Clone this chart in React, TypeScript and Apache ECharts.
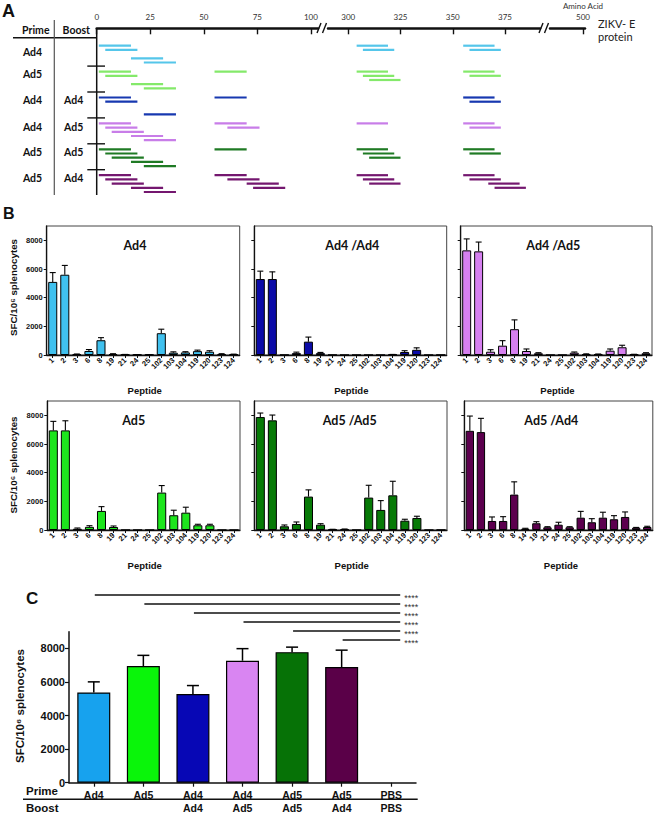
import React, { useEffect, useRef } from 'react';
import * as echarts from 'echarts';

// ---------------- Panel A data ----------------
const aPrime = ['Ad4', 'Ad5', 'Ad4', 'Ad4', 'Ad5', 'Ad5'];
const aBoost = ['', '', 'Ad4', 'Ad5', 'Ad5', 'Ad4'];
const aPositivePeptides = [
  [1, 2, 6, 8, 102, 103, 119, 120],
  [1, 2, 6, 8, 19, 102, 103, 104, 119, 120],
  [1, 2, 8, 19, 119, 120],
  [1, 2, 3, 6, 8, 19, 21, 102, 119, 120],
  [1, 2, 3, 6, 8, 19, 102, 103, 104, 119, 120],
  [1, 2, 3, 6, 8, 19, 21, 24, 25, 102, 103, 104, 119, 120, 123, 124],
];
const peptideIds = [1, 2, 3, 6, 8, 14, 19, 21, 24, 25, 102, 103, 104, 119, 120, 123, 124];
const peptideStartAA = [1, 4, 7, 16, 22, 40, 55, 61, 70, 73, 304, 307, 310, 355, 358, 367, 370];
const peptideLengthAA = 15;
const peptideClusters = [[1, 2, 3, 6, 8], [19, 21, 24, 25], [102, 103, 104], [119, 120, 123, 124]];
const aTicksSeg1 = [0, 25, 50, 75, 100];
const aTicksSeg2 = [300, 325, 350, 375];
const aTicksSeg3 = [500];

// ---------------- Panel B data ----------------
const peptides16 = ['1', '2', '3', '6', '8', '19', '21', '24', '25', '102', '103', '104', '119', '120', '123', '124'];
const peptides17 = ['1', '2', '3', '6', '8', '14', '19', '21', '24', '25', '102', '103', '104', '119', '120', '123', '124'];
const bTitles = ['Ad4', 'Ad4 /Ad4', 'Ad4 /Ad5', 'Ad5', 'Ad5 /Ad5', 'Ad5 /Ad4'];

const ad4Mean = [5100, 5600, 50, 280, 1030, 70, 30, 20, 20, 1520, 160, 180, 270, 230, 70, 50];
const ad4Err = [650, 650, 20, 100, 180, 20, 10, 10, 10, 280, 60, 50, 70, 70, 20, 10];
const ad4ad4Mean = [5300, 5300, 10, 130, 930, 130, 10, 0, 0, 0, 0, 30, 210, 360, 0, 10];
const ad4ad4Err = [550, 500, 0, 70, 320, 50, 0, 0, 0, 0, 0, 10, 90, 140, 0, 0];
const ad4ad5Mean = [7300, 7230, 230, 650, 1800, 280, 120, 0, 0, 160, 60, 50, 300, 540, 40, 120];
const ad4ad5Err = [800, 650, 140, 350, 650, 140, 40, 0, 0, 50, 20, 20, 120, 140, 10, 40];
const ad5Mean = [6950, 6950, 90, 220, 1330, 210, 0, 0, 0, 2610, 1030, 1210, 330, 330, 0, 0];
const ad5Err = [630, 670, 50, 80, 300, 70, 0, 0, 0, 490, 350, 380, 70, 70, 0, 0];
const ad5ad5Mean = [7880, 7650, 260, 420, 2330, 370, 40, 60, 0, 2260, 1400, 2420, 650, 840, 0, 10];
const ad5ad5Err = [280, 370, 90, 140, 470, 70, 10, 10, 0, 860, 650, 980, 100, 120, 0, 0];
const ad5ad4Mean = [6920, 6830, 630, 630, 2470, 90, 470, 190, 370, 190, 860, 540, 860, 750, 910, 160, 210];
const ad5ad4Err = [1030, 960, 280, 300, 890, 30, 110, 40, 170, 40, 440, 250, 380, 250, 350, 20, 50];
const bYTicks = [0, 2000, 4000, 6000, 8000];

// ---------------- Panel C data ----------------
const cPrime = ['Ad4', 'Ad5', 'Ad4', 'Ad4', 'Ad5', 'Ad5', 'PBS'];
const cBoost = ['', '', 'Ad4', 'Ad5', 'Ad5', 'Ad4', 'PBS'];
const cMean = [5380, 6950, 5290, 7270, 7780, 6890, 0];
const cErr = [630, 640, 500, 720, 300, 1010, 0];
const cSigFrom = [0, 1, 2, 3, 4, 5];
const cSigTo = 6;
const cSigLabel = '****';
const cYTicks = [0, 2000, 4000, 6000, 8000];

// ---------------- styles / layout ----------------
const aColors = ['#55c6ea', '#84e96a', '#1738b0', '#c87de8', '#1f7a24', '#74176f'];
const bColors = ['#40c1ef', '#0b0ba8', '#d680f0', '#1de51d', '#077a07', '#5c004e'];
const cColors = ['#17a2ee', '#0af50a', '#0707b5', '#d985f2', '#067206', '#5a0048', '#888888'];
const ARIAL = 'Liberation Sans, Arial, sans-serif';
const CAL = 'Lato, sans-serif';

const A_TOP = 45.7;
const A_ROW = 25.9;
const A_SLOT = 4.2;

const plain = (v: number) => String(v);

export default function App() {
  const ref = useRef<HTMLDivElement>(null);

  useEffect(() => {
    if (!ref.current) return;
    const chart = echarts.init(ref.current, null, { renderer: 'svg' });

    // ---------- Panel A ----------
    const aLineData = (seg: number) => {
      const out: number[][] = [];
      aPositivePeptides.forEach((peps, r) => {
        peps.forEach((p) => {
          const s = peptideStartAA[peptideIds.indexOf(p)];
          const inSeg = seg === 0 ? s < 200 : s >= 200;
          if (!inSeg) return;
          const cl = peptideClusters.find((c) => c.indexOf(p) >= 0) || [p];
          out.push([s, s + peptideLengthAA, r, cl.indexOf(p)]);
        });
      });
      return out;
    };
    const aRender = (params: any, api: any) => {
      const r = api.value(2);
      const slot = api.value(3);
      const p1 = api.coord([api.value(0), r]);
      const p2 = api.coord([api.value(1), r]);
      const y = p1[1] + slot * A_SLOT;
      return {
        type: 'line',
        shape: { x1: p1[0], y1: y, x2: p2[0], y2: y },
        style: { stroke: aColors[r], lineWidth: 2.2 },
      };
    };
    const aXAxis = (gi: number, min: number, max: number, ticks: number[]) => ({
      type: 'value', gridIndex: gi, position: 'top', offset: A_TOP - 28.3, min, max,
      axisLine: { show: true, onZero: false, lineStyle: { color: '#111', width: 2.5 } },
      axisTick: { show: true, inside: true, length: 6, customValues: ticks, lineStyle: { color: '#111', width: 1.4 } },
      axisLabel: { show: true, customValues: ticks, formatter: plain, fontFamily: CAL, fontSize: 8, color: '#333', margin: 7 },
      splitLine: { show: false },
    });
    const aGrid = (left: number, width: number) => ({
      left, width, top: A_TOP, height: A_ROW * 6, outerBoundsMode: 'none', containLabel: false,
    });

    // ---------- Panel B ----------
    const bGrids = [
      { left: 46.7, top: 226, width: 193, height: 129 },
      { left: 254.3, top: 226, width: 192.4, height: 129 },
      { left: 460.7, top: 226, width: 191.3, height: 129 },
      { left: 47.3, top: 401, width: 192.7, height: 129 },
      { left: 254.3, top: 401, width: 192.7, height: 129 },
      { left: 464.3, top: 401, width: 188.5, height: 129 },
    ];
    const bCats = [peptides16, peptides16, peptides16, peptides16, peptides16, peptides17];
    const bMeans = [ad4Mean, ad4ad4Mean, ad4ad5Mean, ad5Mean, ad5ad5Mean, ad5ad4Mean];
    const bErrs = [ad4Err, ad4ad4Err, ad4ad5Err, ad5Err, ad5ad5Err, ad5ad4Err];

    const errRender = (cap: number, lw: number) => (params: any, api: any) => {
      const i = api.value(0);
      const m = api.value(1);
      const e = api.value(2);
      if (!e) return null;
      const a = api.coord([i, m]);
      const b = api.coord([i, m + e]);
      return {
        type: 'group',
        children: [
          { type: 'line', shape: { x1: a[0], y1: a[1], x2: b[0], y2: b[1] }, style: { stroke: '#000', lineWidth: lw } },
          { type: 'line', shape: { x1: b[0] - cap, y1: b[1], x2: b[0] + cap, y2: b[1] }, style: { stroke: '#000', lineWidth: lw } },
        ],
      };
    };

    const grid: any[] = [
      aGrid(96.7, 221.3),
      aGrid(328, 212),
      aGrid(550, 35),
    ];
    const xAxis: any[] = [
      aXAxis(0, 0, 103.3, aTicksSeg1),
      aXAxis(1, 290.3, 391.75, aTicksSeg2),
      aXAxis(2, 484, 501, aTicksSeg3),
    ];
    const yAxis: any[] = [0, 1, 2].map((gi) => ({
      type: 'value', gridIndex: gi, min: 0, max: 6, inverse: true, show: false,
    }));
    const series: any[] = [
      { type: 'custom', xAxisIndex: 0, yAxisIndex: 0, data: aLineData(0), encode: { x: [0, 1], y: 2 }, renderItem: aRender, silent: true, clip: false },
      { type: 'custom', xAxisIndex: 1, yAxisIndex: 1, data: aLineData(1), encode: { x: [0, 1], y: 2 }, renderItem: aRender, silent: true, clip: false },
    ];

    bGrids.forEach((g, k) => {
      const gi = grid.length;
      grid.push({ ...g, show: true, borderColor: '#444', borderWidth: 1, backgroundColor: 'transparent', outerBoundsMode: 'none', containLabel: false });
      xAxis.push({
        type: 'category', gridIndex: gi, data: bCats[k], boundaryGap: true,
        axisLine: { show: true, onZero: false, lineStyle: { color: '#111', width: 1.3 } },
        axisTick: { show: true, alignWithLabel: true, length: 3, lineStyle: { color: '#111', width: 1 } },
        axisLabel: { interval: 0, rotate: 45, fontSize: 7.5, fontWeight: 'bold', fontFamily: ARIAL, color: '#111', margin: 4, hideOverlap: false },
        splitLine: { show: false },
      });
      yAxis.push({
        type: 'value', gridIndex: gi, min: 0, max: 9000, interval: 1000,
        axisLine: { show: true, lineStyle: { color: '#111', width: 1.3 } },
        axisTick: { show: true, length: 3, customValues: bYTicks, lineStyle: { color: '#111', width: 1 } },
        axisLabel: { show: k % 3 === 0, customValues: bYTicks, formatter: plain, fontSize: 7.5, fontWeight: 'bold', fontFamily: ARIAL, color: '#111', margin: 4 },
        splitLine: { show: false },
      });
      series.push({
        type: 'bar', xAxisIndex: gi, yAxisIndex: gi, data: bMeans[k], barWidth: '75%',
        itemStyle: { color: bColors[k], borderColor: '#000', borderWidth: 1 }, silent: true,
      });
      series.push({
        type: 'custom', xAxisIndex: gi, yAxisIndex: gi, z: 5,
        data: bMeans[k].map((m, i) => [i, m, bErrs[k][i]]),
        encode: { x: 0, y: 1 }, renderItem: errRender(3, 1.1), silent: true, clip: false,
      });
    });

    // ---------- Panel C ----------
    const cg = grid.length;
    grid.push({ left: 69, top: 631.7, width: 347, height: 151, outerBoundsMode: 'none', containLabel: false });
    const cIdx = cPrime.map((_, i) => String(i));
    const cx = xAxis.length;
    xAxis.push({
      type: 'category', gridIndex: cg, data: cIdx, boundaryGap: true,
      axisLine: { show: true, onZero: false, lineStyle: { color: '#111', width: 1.5 } },
      axisTick: { show: true, alignWithLabel: true, length: 4, lineStyle: { color: '#111', width: 1.2 } },
      axisLabel: { interval: 0, formatter: (v: string, i: number) => cPrime[i], fontSize: 10.5, fontWeight: 'bold', fontFamily: ARIAL, color: '#111', margin: 7 },
    });
    xAxis.push({
      type: 'category', gridIndex: cg, data: cIdx, boundaryGap: true, position: 'bottom', offset: 12.6,
      axisLine: { show: false }, axisTick: { show: false },
      axisLabel: { interval: 0, formatter: (v: string, i: number) => cBoost[i], fontSize: 10.5, fontWeight: 'bold', fontFamily: ARIAL, color: '#111', margin: 7 },
    });
    const cy = yAxis.length;
    yAxis.push({
      type: 'value', gridIndex: cg, min: 0, max: 9000, interval: 1000,
      axisLine: { show: true, lineStyle: { color: '#111', width: 1.5 } },
      axisTick: { show: true, length: 4, customValues: cYTicks, lineStyle: { color: '#111', width: 1.2 } },
      axisLabel: { customValues: cYTicks, formatter: plain, fontSize: 11, fontWeight: 'bold', fontFamily: ARIAL, color: '#111', margin: 4 },
      splitLine: { show: false },
    });
    series.push({
      type: 'bar', xAxisIndex: cx, yAxisIndex: cy, barWidth: 33,
      data: cMean.map((m, i) => ({ value: m, itemStyle: { color: cColors[i], borderWidth: m > 0 ? 1.2 : 0 } })),
      itemStyle: { borderColor: '#000', borderWidth: 1.2 }, silent: true,
    });
    series.push({
      type: 'custom', xAxisIndex: cx, yAxisIndex: cy, z: 5,
      data: cMean.map((m, i) => [i, m, cErr[i]]),
      encode: { x: 0, y: 1 }, renderItem: errRender(6, 1.5), silent: true, clip: false,
    });
    series.push({
      type: 'custom', xAxisIndex: cx, yAxisIndex: cy, z: 5,
      data: cSigFrom.map((f, i) => [f, cSigTo, i]),
      encode: { x: [0, 1] },
      renderItem: (params: any, api: any) => {
        const lvl = api.value(2);
        const x1 = api.coord([api.value(0), 0])[0] + 1;
        const x2 = api.coord([api.value(1), 0])[0] + 9;
        const y = 595 + lvl * 9;
        return {
          type: 'group',
          children: [
            { type: 'line', shape: { x1, y1: y, x2, y2: y }, style: { stroke: '#111', lineWidth: 1.3 } },
            { type: 'text', x: x2 + 4, y: y + 2.8, style: { text: cSigLabel, fontSize: 9, fontFamily: ARIAL, fill: '#333', align: 'left', verticalAlign: 'middle' } },
          ],
        };
      },
      silent: true, clip: false,
    });

    // ---------- graphics ----------
    const txt = (x: number, y: number, text: string, o: any = {}) => ({
      type: 'text', x, y, silent: true, rotation: o.rotation || 0,
      style: {
        text, fontSize: o.size || 10, fontFamily: o.family || ARIAL, fontWeight: o.weight || 'normal',
        fill: o.color || '#111', align: o.align || 'center', verticalAlign: 'middle',
        textAlign: o.align || 'center', textVerticalAlign: 'middle',
      },
    });
    const ln = (x1: number, y1: number, x2: number, y2: number, w = 1.4, c = '#111') => ({
      type: 'line', silent: true, shape: { x1, y1, x2, y2 }, style: { stroke: c, lineWidth: w },
    });

    const rowLabelY = [51.7, 74.2, 100, 126.7, 152.3, 178.3];
    const graphics: any[] = [
      txt(2, 11, 'A', { size: 18, weight: 'bold', align: 'left' }),
      txt(3, 213.5, 'B', { size: 16, weight: 'bold', align: 'left' }),
      txt(26, 598.3, 'C', { size: 17, weight: 'bold', align: 'left' }),
      // panel A header
      txt(35.8, 29.5, 'Prime', { size: 10.5, weight: 'bold', family: CAL }),
      txt(76.3, 29.5, 'Boost', { size: 10.5, weight: 'bold', family: CAL }),
      ln(13, 37.7, 96.7, 37.7, 1.4),
      ln(54.3, 20, 54.3, 195, 1.2, '#555'),
      ln(96.7, 28, 96.7, 195, 1.5),
      txt(583, 5.5, 'Amino Acid', { size: 8, family: CAL, color: '#333' }),
      txt(598, 23, 'ZIKV- E', { size: 11, family: CAL, align: 'left', color: '#222' }),
      txt(598, 36.5, 'protein', { size: 11, family: CAL, align: 'left', color: '#222' }),
      // break marks
      ln(317, 33, 321, 23, 1.4), ln(322.5, 33, 326.5, 23, 1.4),
      ln(539, 33, 543, 23, 1.4), ln(544.5, 33, 548.5, 23, 1.4),
    ];
    for (let r = 0; r < 6; r++) {
      graphics.push(txt(32.5, rowLabelY[r], aPrime[r], { size: 10.5, weight: 'bold', family: CAL }));
      if (aBoost[r]) graphics.push(txt(73.7, rowLabelY[r], aBoost[r], { size: 10.5, weight: 'bold', family: CAL }));
      if (r > 0) {
        const yy = A_TOP + A_ROW * r - 5.5;
        graphics.push(ln(87.3, yy, 105, yy, 1.4));
      }
    }
    // panel B titles and names
    const bTitlePos = [[135, 245], [352.3, 245], [553.3, 245], [133.7, 420], [349.7, 420], [551.3, 420]];
    bTitles.forEach((t, k) => graphics.push(txt(bTitlePos[k][0], bTitlePos[k][1], t, { size: 12.5, weight: 'bold', family: CAL })));
    const pepPos = [[144.7, 390], [351.3, 390], [557.5, 390], [144.7, 565], [351.7, 565], [561, 565]];
    pepPos.forEach((p) => graphics.push(txt(p[0], p[1], 'Peptide', { size: 9.5, weight: 'bold' })));
    graphics.push(txt(13, 287.5, 'SFC/10⁶ splenocytes', { size: 9.8, weight: 'bold', rotation: Math.PI / 2 }));
    graphics.push(txt(13, 465, 'SFC/10⁶ splenocytes', { size: 9.8, weight: 'bold', rotation: Math.PI / 2 }));
    // panel C
    graphics.push(txt(20, 706, 'SFC/10⁶ splenocytes', { size: 11.5, weight: 'bold', rotation: Math.PI / 2 }));
    graphics.push(txt(26, 791, 'Prime', { size: 11.5, weight: 'bold', align: 'left' }));
    graphics.push(txt(26, 808.3, 'Boost', { size: 11.5, weight: 'bold', align: 'left' }));
    graphics.push(ln(23, 799.3, 417.7, 799.3, 1.4));

    chart.setOption({
      animation: false,
      backgroundColor: '#ffffff',
      textStyle: { fontFamily: ARIAL },
      grid, xAxis, yAxis, series,
      graphic: { elements: graphics },
    });
    return () => chart.dispose();
  }, []);

  return (
    <div
      ref={ref}
      style={{ position: 'fixed', left: 0, top: 0, width: 660, height: 814, background: '#fff' }}
    />
  );
}
